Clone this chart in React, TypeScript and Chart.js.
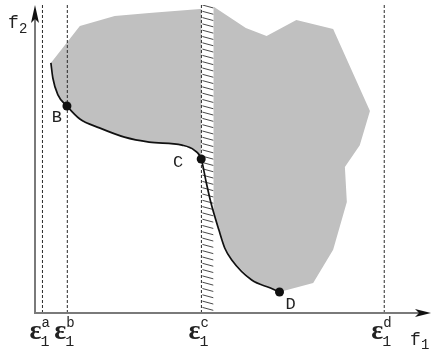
import React, { useEffect, useRef } from "react";
import { Chart, registerables } from "chart.js";

Chart.register(...registerables);

// Pareto front (f1, f2)
const frontF1 = [3.8, 4.3, 5.6, 7.9, 11.2, 16.2, 22.6, 28.9, 37.3, 40.4, 42.2, 43.4, 44.7, 46.7, 48.2, 50.0, 55.1, 59.9, 62.2];
const frontF2 = [81.2, 76.3, 70.8, 67.2, 63.0, 60.1, 57.1, 55.5, 54.5, 52.9, 50.0, 42.9, 35.7, 27.0, 21.1, 17.2, 10.7, 8.1, 6.8];

// Outer boundary of feasible region (from front start, clockwise, to D)
const regionF1 = [11.2, 20.1, 28.9, 41.9, 45.4, 53.6, 58.9, 66.5, 75.9, 85.3, 82.7, 78.9, 79.4, 75.9, 70.8];
const regionF2 = [93.2, 96.4, 97.4, 98.7, 99.4, 92.5, 89.9, 95.1, 92.2, 65.6, 54.5, 47.4, 36.0, 20.5, 9.7];

// epsilon constraint levels
const epsNames = ["a", "b", "c", "d"];
const epsValues = [1.65, 8.0, 42.25, 88.95];
const hatchedEps = "c";
const stripWidth = 3.1;

// labelled points
const pointNames = ["B", "C", "D"];
const pointF1 = [7.9, 42.2, 62.2];
const pointF2 = [67.2, 50.0, 6.8];

const axisNames = ["f", "1", "f", "2"];

export default function App() {
  const ref = useRef<HTMLCanvasElement | null>(null);

  useEffect(() => {
    const canvas = ref.current;
    if (!canvas) return;

    const front = frontF1.map((x, i) => ({ x, y: frontF2[i] }));
    const region = [
      ...front.slice(0, 1),
      ...regionF1.map((x, i) => ({ x, y: regionF2[i] })),
      ...front.slice().reverse(),
    ];
    const yTop = 100;
    const cIdx = epsNames.indexOf(hatchedEps);
    const xc = epsValues[cIdx];
    const strip = [
      { x: xc, y: 0 },
      { x: xc, y: yTop },
      { x: xc + stripWidth, y: yTop },
      { x: xc + stripWidth, y: 0 },
    ];

    const dashed = epsValues.map((v) => ({
      type: "scatter" as const,
      data: [
        { x: v, y: 0 },
        { x: v, y: yTop },
      ],
      showLine: true,
      borderColor: "#2a2a2a",
      borderWidth: 1,
      borderDash: [3, 2],
      pointRadius: 0,
      fill: false,
      order: 5,
    }));

    const labelOffsets = [
      { dx: -5, dy: 16, align: "right" },
      { dx: -18, dy: 8, align: "right" },
      { dx: 6, dy: 17, align: "left" },
    ];

    const decor = {
      id: "decor",
      afterDatasetDraw(chart: any, args: any) {
        if (args.index !== 1) return;
        const ctx = chart.ctx;
        const xs = chart.scales.x;
        const ys = chart.scales.y;
        const x0 = xs.getPixelForValue(xc);
        const x1 = xs.getPixelForValue(xc + stripWidth);
        const yt = ys.getPixelForValue(yTop);
        const yb = ys.getPixelForValue(0);
        ctx.save();
        ctx.beginPath();
        ctx.rect(x0, yt, x1 - x0, yb - yt);
        ctx.clip();
        ctx.strokeStyle = "#4a4a4a";
        ctx.lineWidth = 1;
        for (let y = yt + 3; y < yb + 6; y += 6.3) {
          ctx.beginPath();
          ctx.moveTo(x0 + 1, y - 3);
          ctx.lineTo(x1, y);
          ctx.stroke();
        }
        ctx.restore();
      },
      afterDraw(chart: any) {
        const ctx = chart.ctx;
        const xs = chart.scales.x;
        const ys = chart.scales.y;
        const ox = xs.getPixelForValue(0) - 1;
        const oy = ys.getPixelForValue(0);
        ctx.save();
        // axes
        ctx.strokeStyle = "#7a7a7a";
        ctx.lineWidth = 2;
        ctx.beginPath();
        ctx.moveTo(ox - 1, oy);
        ctx.lineTo(chart.width - 10, oy);
        ctx.moveTo(ox, oy + 1);
        ctx.lineTo(ox, 16);
        ctx.stroke();
        // arrowheads
        ctx.fillStyle = "#111";
        ctx.beginPath();
        ctx.moveTo(ox, 5);
        ctx.lineTo(ox + 4, 23);
        ctx.lineTo(ox, 19);
        ctx.lineTo(ox - 4, 23);
        ctx.closePath();
        ctx.fill();
        const tx = chart.width - 1;
        ctx.beginPath();
        ctx.moveTo(tx, oy);
        ctx.lineTo(tx - 16, oy - 4);
        ctx.lineTo(tx - 12, oy);
        ctx.lineTo(tx - 16, oy + 4);
        ctx.closePath();
        ctx.fill();

        ctx.fillStyle = "#222";
        ctx.textBaseline = "alphabetic";
        // axis labels
        ctx.font = "18px 'Liberation Mono'";
        ctx.textAlign = "left";
        ctx.fillText(axisNames[0], 410, 345);
        ctx.fillText(axisNames[2], 8, 28);
        ctx.font = "14px 'Liberation Mono'";
        ctx.fillText(axisNames[1], 421, 349);
        ctx.fillText(axisNames[3], 19, 33);

        // epsilon labels
        epsValues.forEach((v, i) => {
          const px = xs.getPixelForValue(v);
          ctx.font = "bold 28px 'Liberation Serif'";
          ctx.textAlign = "right";
          ctx.fillText("\u03b5", px - 1, 339);
          ctx.textAlign = "left";
          ctx.font = "15px 'Liberation Mono'";
          ctx.fillText("1", px - 2, 346);
          ctx.font = "14px 'Liberation Mono'";
          ctx.fillText(epsNames[i], px - 1, 327);
        });

        // point labels
        ctx.font = "17px 'Liberation Mono'";
        pointNames.forEach((n, i) => {
          const px = xs.getPixelForValue(pointF1[i]);
          const py = ys.getPixelForValue(pointF2[i]);
          const o = labelOffsets[i];
          ctx.textAlign = o.align;
          ctx.fillText(n, px + o.dx, py + o.dy);
        });
        ctx.restore();
      },
    };

    const chart = new Chart(canvas, {
      type: "scatter",
      data: {
        datasets: [
          {
            data: region,
            showLine: true,
            tension: 0,
            borderWidth: 0,
            borderColor: "rgba(0,0,0,0)",
            backgroundColor: "#c0c0c0",
            fill: "shape",
            pointRadius: 0,
            order: 10,
          } as any,
          {
            data: strip,
            showLine: true,
            tension: 0,
            borderWidth: 0,
            borderColor: "rgba(0,0,0,0)",
            backgroundColor: "#ffffff",
            fill: "shape",
            pointRadius: 0,
            order: 9,
          } as any,
          ...dashed,
          {
            data: front,
            showLine: true,
            cubicInterpolationMode: "monotone",
            borderColor: "#111",
            borderWidth: 1.7,
            pointRadius: 0,
            fill: false,
            order: 2,
          } as any,
          {
            data: pointF1.map((x, i) => ({ x, y: pointF2[i] })),
            showLine: false,
            pointRadius: 4.5,
            pointBackgroundColor: "#111",
            pointBorderColor: "#111",
            pointBorderWidth: 0,
            order: 1,
          } as any,
        ],
      },
      options: {
        animation: false,
        responsive: false,
        events: [],
        layout: { padding: { left: 36, right: 2, top: 5, bottom: 37 } },
        plugins: {
          legend: { display: false },
          tooltip: { enabled: false },
          filler: { propagate: false },
        },
        scales: {
          x: { type: "linear", min: 0, max: 100, display: false },
          y: { type: "linear", min: 0, max: 100, display: false },
        },
      },
      plugins: [decor as any],
    });

    return () => chart.destroy();
  }, []);

  return (
    <canvas
      ref={ref}
      width={432}
      height={350}
      style={{ position: "absolute", left: 0, top: 0, display: "block" }}
    />
  );
}
